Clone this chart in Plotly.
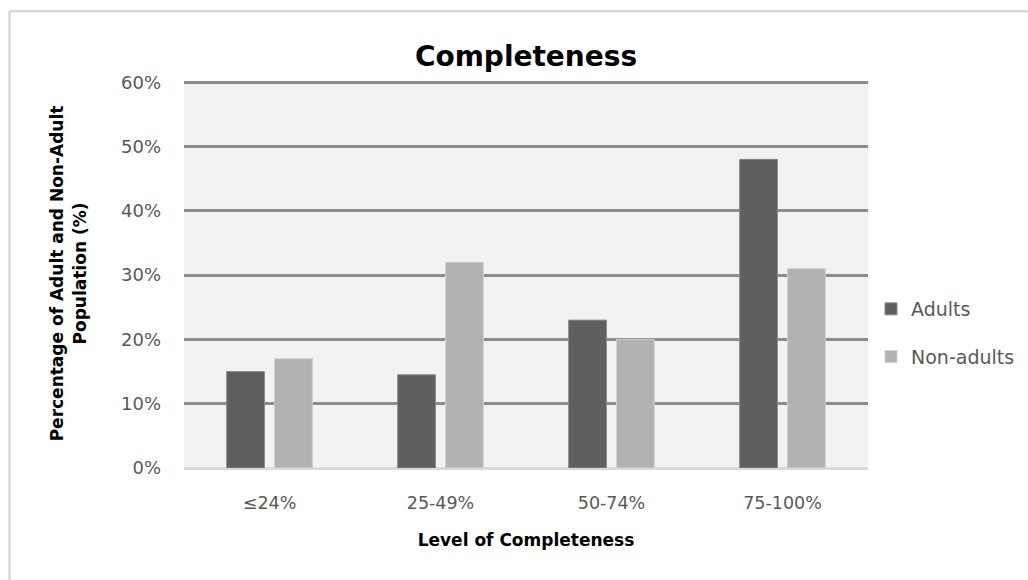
import plotly.graph_objects as go

categories = ["≤24%", "25-49%", "50-74%", "75-100%"]
adults = [15, 14.5, 23, 48]
non_adults = [17, 32, 20, 31]
y_ticks = [0, 10, 20, 30, 40, 50, 60]
y_tick_labels = ["0%", "10%", "20%", "30%", "40%", "50%", "60%"]

W, H = 1028, 580
L, R, T, B = 184, 160, 79, 112
pw, ph = W - L - R, H - T - B

FONT = "DejaVu Sans"

fig = go.Figure()
fig.add_trace(go.Bar(
    x=categories, y=adults, name="Adults",
    marker=dict(color="#5f5f5f", line=dict(color="#8a8a8a", width=1)),
    legendgroup="a",
))
fig.add_trace(go.Bar(
    x=categories, y=non_adults, name="Non-adults",
    marker=dict(color="#b2b2b2", line=dict(color="#d0d0d0", width=1)),
    legendgroup="b",
))

# light frame around the chart area (open at the bottom/right edges)
def px_x(p):
    return (p - L) / pw

def px_y(p):
    return (H - B - p) / ph

fig.add_shape(type="line", xref="paper", yref="paper",
              x0=px_x(9.5), x1=px_x(1040), y0=px_y(11.3), y1=px_y(11.3),
              line=dict(color="#d9d9d9", width=2.5))
fig.add_shape(type="line", xref="paper", yref="paper",
              x0=px_x(9.5), x1=px_x(9.5), y0=px_y(11.3), y1=px_y(600),
              line=dict(color="#d9d9d9", width=2.5))

fig.update_layout(
    width=W, height=H,
    margin=dict(l=L, r=R, t=T, b=B, autoexpand=False),
    paper_bgcolor="white",
    plot_bgcolor="white",
    barmode="group",
    bargap=0.44,
    bargroupgap=0.21,
    font=dict(family=FONT, color="#595959", size=17),
    title=dict(
        text="<b>Completeness</b>",
        font=dict(family=FONT, size=28, color="black"),
        x=0.5, xanchor="center", xref="paper",
        y=1 - 56 / H, yanchor="middle", yref="container",
    ),
    legend=dict(
        x=px_x(871), xanchor="left",
        y=px_y(333), yanchor="middle",
        font=dict(family=FONT, size=19, color="#595959"),
        bgcolor="rgba(0,0,0,0)",
        tracegroupgap=20,
        traceorder="grouped",
    ),
    xaxis=dict(
        showgrid=False,
        showline=False,
        ticks="",
        tickfont=dict(family=FONT, size=17.5, color="#595959"),
        ticklabelstandoff=22,
        title=dict(text="<b>Level of Completeness</b>",
                   font=dict(family=FONT, size=17, color="black"),
                   standoff=22),
    ),
    yaxis=dict(
        range=[0, 60.5],
        tickvals=y_ticks,
        ticktext=y_tick_labels,
        showgrid=True,
        gridcolor="#8c8c8c",
        gridwidth=2.5,
        zeroline=True,
        zerolinecolor="#d9d9d9",
        zerolinewidth=2.5,
        showline=False,
        ticks="",
        tickfont=dict(family=FONT, size=18, color="#595959"),
        ticklabelstandoff=22,
        title=dict(text="<b>Percentage of Adult and Non-Adult<br>Population (%)</b>",
                   font=dict(family=FONT, size=17, color="black"),
                   standoff=30),
    ),
)

# shaded panel spanning 0–60 %, so the band above the top gridline stays white
fig.add_shape(type="rect", xref="paper", yref="y", layer="below",
              x0=0, x1=1, y0=0, y1=60,
              fillcolor="#f2f2f2", line=dict(width=0))

fig.write_html("out.html")
